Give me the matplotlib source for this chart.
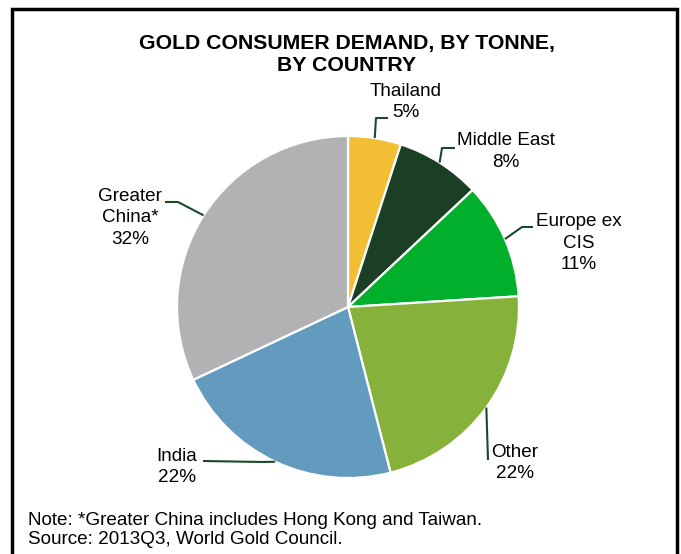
import matplotlib.pyplot as plt
from matplotlib.patches import Rectangle
import numpy as np

plt.rcParams['font.family'] = ['Liberation Sans', 'DejaVu Sans']

# data
labels = ['Thailand', 'Middle East', 'Europe ex\nCIS', 'Other', 'India', 'Greater\nChina*']
shares = [5, 8, 11, 22, 22, 32]
colors = ['#F2BE33', '#1A3F25', '#00B02C', '#86B23C', '#639BBF', '#B2B2B4']

# layout (pixel coords, y measured from top)
W, H = 681, 554
cx, cy, r = 348, 307, 171
# knee / end points of leader lines, and text centres
leader_pts = [
    [(376, 118), (388, 118)],
    [(442, 148), (455, 148)],
    [(522, 227), (533, 227)],
    [(488, 460)],
    [(263, 462), (203, 461)],
    [(178, 202), (165, 202)],
]
text_pos = [(406, 102), (506, 151.5), (579, 243), (515, 463), (177, 467), (130, 218)]

fig = plt.figure(figsize=(W / 100, H / 100), dpi=100)
ax = fig.add_axes([0, 0, 1, 1])

wedges, _ = ax.pie(shares, colors=colors, startangle=90, counterclock=False,
                   center=(cx, H - cy), radius=r,
                   wedgeprops=dict(edgecolor='white', linewidth=1.6))
ax.set_xlim(0, W)
ax.set_ylim(0, H)
ax.axis('off')

total = sum(shares)
start = 0
for i, (lab, s) in enumerate(zip(labels, shares)):
    mid = start + s / 2
    start += s
    ang = np.deg2rad(90 - 360 * mid / total)
    x0 = cx + r * np.cos(ang)
    y0 = cy - r * np.sin(ang)
    pts = [(x0, y0)] + leader_pts[i]
    xs = [p[0] for p in pts]
    ys = [H - p[1] for p in pts]
    ax.plot(xs, ys, color='#1B4A2A', lw=1.5, solid_capstyle='butt')
    tx, ty = text_pos[i]
    ax.text(tx, H - ty, f'{lab}\n{s}%', ha='center', va='center',
            fontsize=13.6, linespacing=1.34)

ax.text(347, H - 54.5, 'GOLD CONSUMER DEMAND, BY TONNE,\nBY COUNTRY', ha='center',
        va='center', fontsize=15.3, fontweight='bold', linespacing=1.18)

ax.text(28, H - 530, 'Note: *Greater China includes Hong Kong and Taiwan.\nSource: 2013Q3, World Gold Council.',
        ha='left', va='center', fontsize=13.6, linespacing=1.22)

# frame around the chart (open at the bottom)
fig.patches.append(Rectangle((12 / W, -0.1), (677 - 12) / W, 1.1 - 9 / H,
                             transform=fig.transFigure, fill=False,
                             edgecolor='black', linewidth=2.5))

fig.savefig('out.png', dpi=100)
